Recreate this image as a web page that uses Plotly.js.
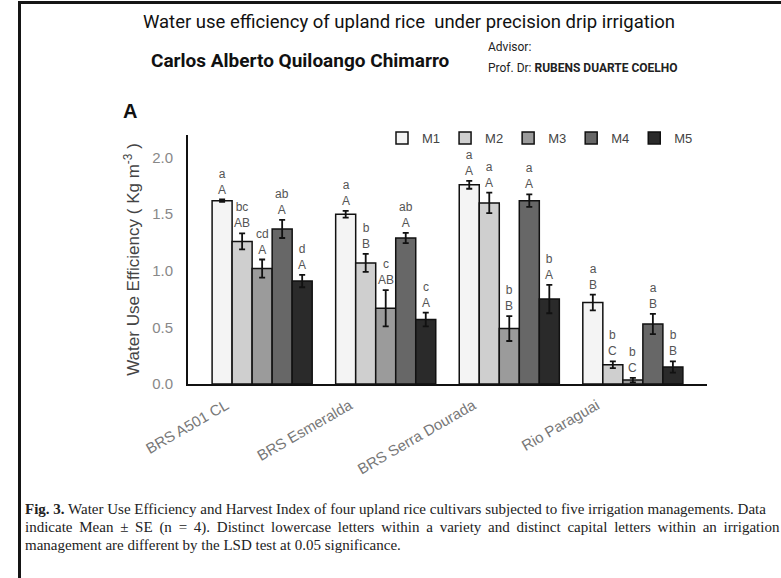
<!DOCTYPE html>
<html>
<head>
<meta charset="utf-8">
<script src="https://cdn.plot.ly/plotly-3.0.1.min.js"></script>
<style>
  html, body { margin: 0; padding: 0; background: #fff; }
  #chart { width: 781px; height: 578px; }
  #frame { position: absolute; left: 18px; top: 1px; width: 800px; height: 600px;
           border-left: 3px solid #151515; border-top: 3px solid #151515; pointer-events: none; }
</style>
</head>
<body>
<div id="chart"></div>
<div id="frame"></div>
<script>
// ---- data ----
const cultivars = ["BRS A501 CL", "BRS Esmeralda", "BRS Serra Dourada", "Rio Paraguai"];
const series = ["M1", "M2", "M3", "M4", "M5"];

const m1 = [1.62, 1.50, 1.76, 0.72];
const m2 = [1.26, 1.07, 1.60, 0.17];
const m3 = [1.02, 0.67, 0.49, 0.035];
const m4 = [1.37, 1.29, 1.62, 0.53];
const m5 = [0.91, 0.57, 0.75, 0.15];

const m1Err = [0.01, 0.03, 0.035, 0.07];
const m2Err = [0.07, 0.08, 0.09, 0.03];
const m3Err = [0.08, 0.16, 0.11, 0.02];
const m4Err = [0.08, 0.045, 0.055, 0.09];
const m5Err = [0.055, 0.06, 0.125, 0.05];

const m1Lower = ["a", "a", "a", "a"];
const m2Lower = ["bc", "b", "a", "b"];
const m3Lower = ["cd", "c", "b", "b"];
const m4Lower = ["ab", "ab", "a", "a"];
const m5Lower = ["d", "c", "b", "b"];

const m1Upper = ["A", "A", "A", "B"];
const m2Upper = ["AB", "B", "A", "C"];
const m3Upper = ["A", "AB", "B", "C"];
const m4Upper = ["A", "A", "A", "B"];
const m5Upper = ["A", "A", "A", "B"];

const yTicks = [0, 0.5, 1.0, 1.5, 2.0];

const captionLines = [
  "<b>Fig. 3.</b> Water Use Efficiency and Harvest Index of four upland rice cultivars subjected to five irrigation managements. Data",
  "indicate Mean ± SE (n = 4). Distinct lowercase letters within a variety and distinct capital letters within an irrigation",
  "management are different by the LSD test at 0.05 significance."
];

// ---- styles ----
const colors = ["#f4f4f4", "#cfcfcf", "#9b9b9b", "#676767", "#2a2a2a"];
const values = [m1, m2, m3, m4, m5];
const errs = [m1Err, m2Err, m3Err, m4Err, m5Err];
const lowers = [m1Lower, m2Lower, m3Lower, m4Lower, m5Lower];
const uppers = [m1Upper, m2Upper, m3Upper, m4Upper, m5Upper];

const W = 781, H = 578;
const M = { l: 188, r: 74, t: 135, b: 194 };
const PW = W - M.l - M.r, PH = H - M.t - M.b;
const px = x => (x - M.l) / PW;
const py = y => (H - M.b - y) / PH;

const bargap = 0.19;
const nS = series.length;
const barW = (1 - bargap) / nS;

const traces = series.map((name, j) => ({
  type: "bar",
  name: name,
  x: cultivars,
  y: values[j],
  marker: { color: colors[j], line: { color: "#111", width: 1.5 } },
  error_y: { type: "data", array: errs[j], visible: true, color: "#111", thickness: 1.8, width: 3 }
}));

const annotations = [];
series.forEach((name, j) => {
  cultivars.forEach((c, i) => {
    annotations.push({
      x: i - (1 - bargap) / 2 + (j + 0.5) * barW,
      y: values[j][i] + errs[j][i],
      xref: "x", yref: "y",
      text: lowers[j][i] + "<br>" + uppers[j][i],
      showarrow: false, yanchor: "bottom", xanchor: "center", yshift: 1,
      font: { family: "Liberation Sans, Arial, sans-serif", size: 12, color: "#555" }
    });
  });
});

const headFont = "Roboto, sans-serif";
annotations.push(
  { xref: "paper", yref: "paper", x: px(300), y: py(60), xanchor: "center", yanchor: "middle",
    text: "<b>Carlos Alberto Quiloango Chimarro</b>", showarrow: false,
    font: { family: headFont, size: 19, color: "#111" } },
  { xref: "paper", yref: "paper", x: px(486), y: py(47), xanchor: "left", yanchor: "middle",
    text: "Advisor:", showarrow: false, font: { family: headFont, size: 12, color: "#222" } },
  { xref: "paper", yref: "paper", x: px(486), y: py(68), xanchor: "left", yanchor: "middle",
    text: "Prof. Dr: <b>RUBENS DUARTE COELHO</b>", showarrow: false,
    font: { family: headFont, size: 12, color: "#222" } },
  { xref: "paper", yref: "paper", x: px(130), y: py(111), xanchor: "center", yanchor: "middle",
    text: "<b>A</b>", showarrow: false, font: { family: "Liberation Sans, Arial, sans-serif", size: 20, color: "#111" } }
);

// caption: one annotation per line (second line widened like the justified original)
const capY = [509, 527, 545];
captionLines.forEach((line, k) => {
  const txt = k === 1 ? line.split(" ").join(" \u2009") : line;
  annotations.push({
    xref: "paper", yref: "paper", x: px(23), y: py(capY[k]), xanchor: "left", yanchor: "middle", align: "left",
    text: txt, showarrow: false,
    font: { family: "Liberation Serif, Times New Roman, serif", size: 15, color: "#222" }
  });
});

const layout = {
  width: W, height: H,
  margin: M,
  paper_bgcolor: "#fff", plot_bgcolor: "#fff",
  barmode: "group", bargap: bargap, bargroupgap: 0,
  title: {
    text: "Water use efficiency of upland rice  under precision drip irrigation",
    x: 409 / W, xanchor: "center", y: 1 - 22 / H, yanchor: "middle", xref: "container", yref: "container",
    font: { family: headFont, size: 18.5, color: "#111" }
  },
  xaxis: {
    type: "category", range: [-0.6, 3.6],
    showline: true, linecolor: "#111", linewidth: 2,
    ticks: "", showgrid: false, zeroline: false,
    tickangle: -30, ticklabelshift: -36, ticklabelstandoff: 5,
    tickfont: { family: "Liberation Sans, Arial, sans-serif", size: 15, color: "#777" }
  },
  yaxis: {
    range: [0, 2.2], tickvals: yTicks, tickformat: ".1f",
    showline: true, linecolor: "#111", linewidth: 2,
    ticks: "", showgrid: false, zeroline: false, ticklabelstandoff: 10,
    tickfont: { family: "Liberation Sans, Arial, sans-serif", size: 15, color: "#888" },
    title: { text: "Water Use Efficiency ( Kg m<sup>-3</sup> )", standoff: 8,
             font: { family: "Liberation Sans, Arial, sans-serif", size: 17, color: "#444" } }
  },
  legend: {
    orientation: "h", x: px(698), xanchor: "right", y: py(138), yanchor: "middle",
    font: { family: "Liberation Sans, Arial, sans-serif", size: 13, color: "#444" },
    bgcolor: "rgba(0,0,0,0)", traceorder: "normal"
  },
  showlegend: true,
  annotations: annotations
};

Plotly.newPlot("chart", traces, layout, { displayModeBar: false, staticPlot: true });
</script>
</body>
</html>
